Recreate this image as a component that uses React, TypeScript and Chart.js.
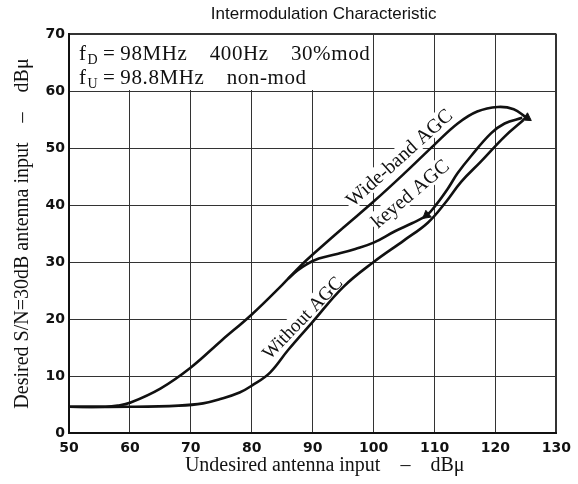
import React, { useEffect, useRef } from "react";
import { Chart, registerables } from "chart.js";

Chart.register(...registerables);

// ---- data ----
const xTickMin = 50;
const xTickMax = 130;
const yTickMin = 0;
const yTickMax = 70;

const wideBandX = [50, 56, 58, 60, 65, 70, 75, 80, 85, 88, 90, 95, 100, 105, 110, 113.8, 117, 120.4, 123, 125];
const wideBandY = [4.6, 4.6, 4.8, 5.3, 7.8, 11.5, 16.2, 20.8, 26.0, 29.3, 31.3, 36.0, 40.6, 45.5, 50.6, 54.3, 56.4, 57.2, 56.8, 55.4];

const keyedX = [86, 87.5, 89, 91, 94, 97, 100, 103.5, 106.3, 108.7, 110.3, 112.2, 113.8, 116, 119.3, 121.5, 124.4];
const keyedY = [27.1, 28.5, 29.6, 30.6, 31.4, 32.3, 33.4, 35.4, 36.8, 38.2, 40.1, 42.9, 45.6, 48.6, 52.6, 54.3, 55.3];

const withoutX = [50, 60, 68, 72, 75, 78, 80, 83, 86, 90, 95, 100, 105, 108.9, 111.7, 114.4, 117.6, 121.5, 124.6];
const withoutY = [4.6, 4.6, 4.8, 5.2, 6.0, 7.1, 8.3, 10.6, 14.6, 19.5, 25.6, 30.0, 33.8, 36.9, 40.3, 44.1, 47.6, 52.0, 54.9];

const arrowX = [125.2, 108.7];
const arrowY = [55.3, 38.2];
const arrowAngle = [124, 231];

const curveLabels = ["Wide-band AGC", "keyed AGC", "Without AGC"];
const curveLabelX = [104.2, 106.0, 88.3];
const curveLabelY = [48.3, 42.0, 20.2];
const curveLabelAngle = [-42, -40, -46];

const chartTitle = "Intermodulation Characteristic";
const xAxisTitle = "Undesired antenna input\u2002\u2002\u2013\u2002\u2002dB\u03bc";
const yAxisTitle = "Desired S/N=30dB antenna input\u2002\u2002\u2013\u2002\u2002dB\u03bc";

// condition box (data units)
const boxX = [50, 100];
const boxY = [60, 70];
const boxLine1 = ["f", "D", "\u2009=\u200998MHz\u2002\u2002400Hz\u2002\u200230%mod"];
const boxLine2 = ["f", "U", "\u2009=\u200998.8MHz\u2002\u2002non-mod"];

const SERIF = "'Liberation Serif', 'DejaVu Serif', serif";
const SANS = "'Liberation Sans', Arial, sans-serif";

const zip = (xs: number[], ys: number[]) => xs.map((x, i) => ({ x, y: ys[i] }));

const annotPlugin = {
  id: "annot",
  beforeDatasetsDraw(chart: any) {
    const { ctx, scales } = chart;
    const xs = scales.x;
    const ys = scales.y;
    ctx.save();
    // condition box
    const l = xs.getPixelForValue(boxX[0]);
    const r = xs.getPixelForValue(boxX[1]);
    const t = ys.getPixelForValue(boxY[1]);
    const b = ys.getPixelForValue(boxY[0]);
    ctx.fillStyle = "#fff";
    ctx.fillRect(l + 1, t + 1, r - l - 2, b - t - 2);
    ctx.fillStyle = "#111";
    ctx.textBaseline = "alphabetic";
    try {
      (ctx as any).letterSpacing = "0.6px";
    } catch (e) {}
    const drawLine = (parts: string[], baseY: number) => {
      let px = l + 10;
      ctx.font = `21px ${SERIF}`;
      ctx.fillText(parts[0], px, baseY);
      px += ctx.measureText(parts[0]).width + 1;
      ctx.font = `14px ${SERIF}`;
      ctx.fillText(parts[1], px, baseY + 4);
      px += ctx.measureText(parts[1]).width;
      ctx.font = `21px ${SERIF}`;
      ctx.fillText(parts[2], px, baseY);
    };
    drawLine(boxLine1, t + 26);
    drawLine(boxLine2, t + 50);
    try {
      (ctx as any).letterSpacing = "0px";
    } catch (e) {}

    // curve labels with white backing (they interrupt the grid)
    ctx.textAlign = "center";
    ctx.textBaseline = "middle";
    curveLabels.forEach((txt, i) => {
      ctx.font = `${i === 2 ? 19 : 20}px ${SERIF}`;
      const px = xs.getPixelForValue(curveLabelX[i]);
      const py = ys.getPixelForValue(curveLabelY[i]);
      const w = ctx.measureText(txt).width;
      ctx.save();
      ctx.translate(px, py);
      ctx.rotate((curveLabelAngle[i] * Math.PI) / 180);
      ctx.fillStyle = "#fff";
      ctx.fillRect(-w / 2 - 2, -10, w + 4, 19);
      ctx.fillStyle = "#111";
      ctx.fillText(txt, 0, 1);
      ctx.restore();
    });
    ctx.restore();
  },
  afterDraw(chart: any) {
    const { ctx, chartArea } = chart;
    ctx.save();
    ctx.fillStyle = "#111";
    ctx.textAlign = "center";
    ctx.textBaseline = "middle";
    ctx.font = `17px ${SANS}`;
    ctx.fillText(chartTitle, (chartArea.left + chartArea.right) / 2 + 11, 14);
    ctx.font = `20px ${SERIF}`;
    ctx.fillText(xAxisTitle, (chartArea.left + chartArea.right) / 2 + 12, 466);
    ctx.restore();
  },
};

export default function App() {
  const ref = useRef<HTMLCanvasElement | null>(null);
  useEffect(() => {
    if (!ref.current) return;
    const lineStyle = {
      borderColor: "#111",
      backgroundColor: "#111",
      borderWidth: 2.6,
      pointRadius: 0,
      tension: 0.4,
      fill: false,
    };
    const chart = new Chart(ref.current, {
      type: "line",
      data: {
        datasets: [
          { label: "Wide-band AGC", data: zip(wideBandX, wideBandY), ...lineStyle },
          { label: "keyed AGC", data: zip(keyedX, keyedY), ...lineStyle },
          { label: "Without AGC", data: zip(withoutX, withoutY), ...lineStyle },
          {
            label: "arrows",
            type: "scatter",
            data: zip(arrowX, arrowY),
            pointStyle: "triangle",
            rotation: arrowAngle,
            pointRadius: 5,
            borderWidth: 1,
            borderColor: "#111",
            backgroundColor: "#111",
            showLine: false,
          } as any,
        ],
      },
      options: {
        animation: false,
        responsive: false,
        devicePixelRatio: 1,
        layout: { padding: { left: 0, right: 19, top: 34, bottom: 0 } },
        plugins: { legend: { display: false }, tooltip: { enabled: false }, title: { display: false } },
        scales: {
          x: {
            type: "linear",
            min: xTickMin,
            max: xTickMax,
            ticks: { stepSize: 10, padding: 7, color: "#111", font: { family: "'DejaVu Sans', sans-serif", weight: "bold", size: 14 } },
            grid: {
              color: "#333",
              lineWidth: (c: any) => (c.tick && c.tick.value === xTickMax ? 2 : 1),
              drawTicks: false,
            },
            border: { color: "#111", width: 2 },
            afterFit: (s: any) => {
              s.height = 51;
            },
          },
          y: {
            type: "linear",
            min: yTickMin,
            max: yTickMax,
            ticks: { stepSize: 10, padding: 4, color: "#111", font: { family: "'DejaVu Sans', sans-serif", weight: "bold", size: 14 } },
            grid: {
              color: "#333",
              lineWidth: (c: any) => (c.tick && c.tick.value === yTickMax ? 2 : 1),
              drawTicks: false,
            },
            border: { color: "#111", width: 2 },
            title: { display: true, text: yAxisTitle, color: "#111", font: { family: SERIF, size: 20 }, padding: { top: 11, bottom: 0 } },
            afterFit: (s: any) => {
              s.width = 69;
            },
          },
        },
      },
      plugins: [annotPlugin],
    } as any);
    return () => chart.destroy();
  }, []);
  return (
    <div style={{ position: "absolute", left: 0, top: 0, width: 578, height: 484, background: "#fff" }}>
      <canvas ref={ref} width={578} height={484} />
    </div>
  );
}
